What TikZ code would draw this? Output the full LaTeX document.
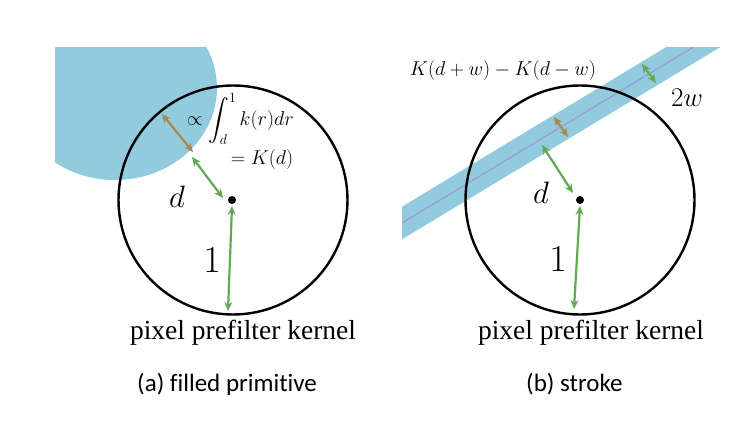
\RequirePackage{fix-cm}
\documentclass[tikz,border=0pt]{standalone}
\usepackage{exscale}
\usepackage{fontspec}
\setmainfont{Liberation Serif}
\newfontfamily\capfont[Ligatures=NoCommon]{Carlito}
\usetikzlibrary{arrows.meta}
\definecolor{fillblue}{RGB}{146,203,222}
\definecolor{argreen}{RGB}{96,170,82}
\definecolor{arbrown}{RGB}{168,136,76}
\definecolor{midline}{RGB}{150,155,210}
\tikzset{
  kernel/.style={circle, draw=black, line width=2.4pt, minimum size=229pt, inner sep=0pt},
  cdot/.style={circle, fill=black, minimum size=8pt, inner sep=0pt},
  dbl/.style={{Stealth[length=9pt,width=8pt]}-{Stealth[length=9pt,width=8pt]}, line width=2.2pt},
  garrow/.style={dbl, draw=argreen},
  barrow/.style={dbl, draw=arbrown},
  bigmath/.style={inner sep=0pt, font=\fontsize{31}{36}\selectfont},
  wmath/.style={inner sep=0pt, font=\fontsize{27}{32}\selectfont},
  onemath/.style={inner sep=0pt, font=\fontsize{38}{44}\selectfont},
  smallmath/.style={inner sep=0pt, font=\fontsize{20}{24}\selectfont},
  label/.style={inner sep=0pt, font=\fontsize{27.5}{32}\selectfont},
  caption/.style={inner sep=0pt, anchor=west, font=\capfont\fontsize{25}{30}\selectfont},
}
\begin{document}
\begin{tikzpicture}[x=1pt,y=-1pt]
\useasboundingbox (0,0) rectangle (754,422);
% ---------- left panel ----------
\begin{scope}
  \clip (55,48) rectangle (400,422);
  \fill[fillblue] (115,88) ellipse [x radius=102, y radius=92];
\end{scope}
\node[kernel] (k1) at (233,200) {};
\node[cdot] (c1) at (232,200) {};
\coordinate (g1a) at (192,157);
\coordinate (g1b) at (223,198);
\coordinate (b1a) at (162,114);
\coordinate (b1b) at (193,152);
\coordinate (r1a) at (232,206);
\coordinate (r1b) at (228,311);
\draw[garrow] (g1a) -- (g1b);
\draw[barrow] (b1a) -- (b1b);
\draw[garrow] (r1a) -- (r1b);
\node[smallmath, anchor=west] (intl) at (187,119) {$\displaystyle\propto\int_d^1 k(r)dr$};
\node[smallmath] (kd) at (262,160) {$=K(d)$};
\node[bigmath] (dl) at (177,197) {$d$};
\node[onemath] (onel) at (212,260) {$1$};
\node[label] (pl) at (243,333) {pixel prefilter kernel};
\node[caption] (ca) at (137,384.5) {(a) filled primitive};
% ---------- right panel ----------
\begin{scope}
  \clip (402,48) rectangle (754,422);
  \coordinate (s1) at (380,236.3);
  \coordinate (s2) at (730,24.9);
  \draw[fillblue, line width=28pt] (s1) -- (s2);
  \draw[midline, line width=1.2pt] (s1) -- (s2);
\end{scope}
\node[kernel] (k2) at (580,200) {};
\node[cdot] (c2) at (580,200) {};
\coordinate (g2a) at (542,145);
\coordinate (g2b) at (573,193);
\coordinate (b2a) at (554,117);
\coordinate (b2b) at (568,137);
\coordinate (w2a) at (642,64);
\coordinate (w2b) at (656,83);
\coordinate (r2a) at (580,206);
\coordinate (r2b) at (574,309);
\draw[garrow] (g2a) -- (g2b);
\draw[barrow] (b2a) -- (b2b);
\draw[garrow] (w2a) -- (w2b);
\draw[garrow] (r2a) -- (r2b);
\node[smallmath] (kdw) at (503,71) {$K(d+w)-K(d-w)$};
\node[wmath] (tw) at (687,98) {$2w$};
\node[bigmath] (dr) at (541,193) {$d$};
\node[onemath] (oner) at (558,259) {$1$};
\node[label] (pr) at (591,333) {pixel prefilter kernel};
\node[caption] (cb) at (526,384.5) {(b) stroke};
\end{tikzpicture}
\end{document}
